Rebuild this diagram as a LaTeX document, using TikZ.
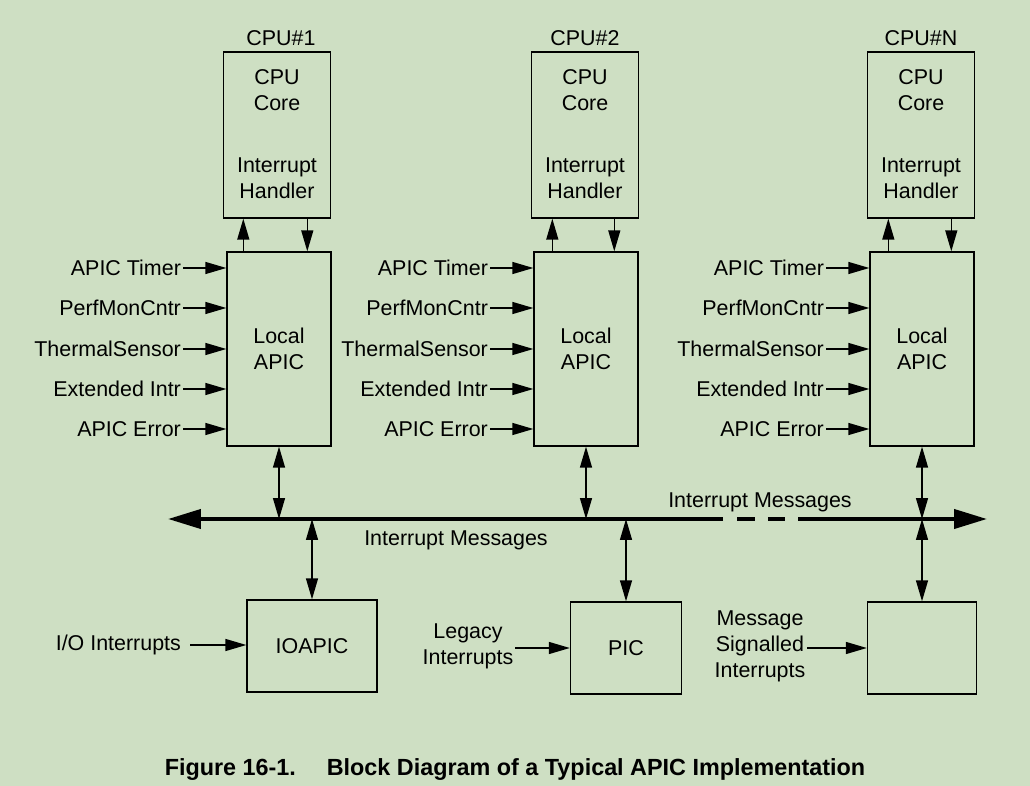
\documentclass[tikz,border=0pt]{standalone}
\usepackage{fontspec}
\setmainfont{Liberation Sans}
\usepackage{tikz}
\usetikzlibrary{arrows.meta}
\definecolor{pagegreen}{RGB}{206,223,195}

\begin{document}
\begin{tikzpicture}[x=0.02cm, y=-0.02cm,
    font=\fontsize{12.2}{14.8}\selectfont,
    txt/.style={inner sep=1pt},
    cpubox/.style={draw, line width=0.8pt, minimum width=2.14cm, minimum height=3.32cm},
    apicbox/.style={draw, line width=0.8pt, minimum width=2.08cm, minimum height=3.88cm},
    devbox/.style={draw, line width=0.8pt, minimum height=1.84cm},
    sig/.style={line width=0.8pt, -{Triangle[length=0.42cm,width=0.24cm]}},
    twoway/.style={line width=0.8pt, {Triangle[length=0.42cm,width=0.24cm]}-{Triangle[length=0.42cm,width=0.24cm]}},
    bus/.style={line width=2.3pt}]
            \path[use as bounding box, fill=pagegreen] (0,0) rectangle (1030,786);

            % CPU #1
            \node[txt] (name1) at (281,38) {CPU\#1};
            \node[cpubox] (cpu1) at (277,135) {};
            \node[txt, align=center] (core1) at (277,90) {CPU\\Core};
            \node[txt, align=center] (hdl1) at (277,178) {Interrupt\\Handler};
            \node[apicbox] (apic1) at (279,349) {};
            \node[txt, align=center] (lapic1) at (279,349) {Local\\APIC};
            \node[txt, anchor=east] (tmr1) at (183,268) {APIC Timer};
            \node[txt, anchor=east] (perf1) at (183,308) {PerfMonCntr};
            \node[txt, anchor=east] (therm1) at (183,349) {ThermalSensor};
            \node[txt, anchor=east] (ext1) at (183,389) {Extended Intr};
            \node[txt, anchor=east] (err1) at (183,429) {APIC Error};

            % CPU #2
            \node[txt] (name2) at (585,38) {CPU\#2};
            \node[cpubox] (cpu2) at (585,135) {};
            \node[txt, align=center] (core2) at (585,90) {CPU\\Core};
            \node[txt, align=center] (hdl2) at (585,178) {Interrupt\\Handler};
            \node[apicbox] (apic2) at (586,349) {};
            \node[txt, align=center] (lapic2) at (586,349) {Local\\APIC};
            \node[txt, anchor=east] (tmr2) at (490,268) {APIC Timer};
            \node[txt, anchor=east] (perf2) at (490,308) {PerfMonCntr};
            \node[txt, anchor=east] (therm2) at (490,349) {ThermalSensor};
            \node[txt, anchor=east] (ext2) at (490,389) {Extended Intr};
            \node[txt, anchor=east] (err2) at (490,429) {APIC Error};

            % CPU #N
            \node[txt] (nameN) at (921,38) {CPU\#N};
            \node[cpubox] (cpuN) at (921,135) {};
            \node[txt, align=center] (coreN) at (921,90) {CPU\\Core};
            \node[txt, align=center] (hdlN) at (921,178) {Interrupt\\Handler};
            \node[apicbox] (apicN) at (922,349) {};
            \node[txt, align=center] (lapicN) at (922,349) {Local\\APIC};
            \node[txt, anchor=east] (tmrN) at (826,268) {APIC Timer};
            \node[txt, anchor=east] (perfN) at (826,308) {PerfMonCntr};
            \node[txt, anchor=east] (thermN) at (826,349) {ThermalSensor};
            \node[txt, anchor=east] (extN) at (826,389) {Extended Intr};
            \node[txt, anchor=east] (errN) at (826,429) {APIC Error};

            % bus
            \coordinate (busL) at (168,519);
            \coordinate (gapL) at (723,519);
            \coordinate (dashL) at (737,519);
            \coordinate (dashR) at (785,519);
            \coordinate (gapR) at (798,519);
            \coordinate (busR) at (987,519);
            \node[txt] (msgLow) at (456,540) {Interrupt Messages};
            \node[txt] (msgUp) at (760,502) {Interrupt Messages};

            % devices
            \node[devbox, minimum width=2.6cm] (ioapic) at (312,646) {IOAPIC};
            \node[devbox, minimum width=2.22cm] (pic) at (626,648) {PIC};
            \node[devbox, minimum width=2.18cm] (msibox) at (922,648) {};
            \node[txt, anchor=east] (iointr) at (183,645) {I/O Interrupts};
            \node[txt, align=center] (legacy) at (468,646) {Legacy\\Interrupts};
            \node[txt, align=center] (msi) at (760,646) {Message\\Signalled\\Interrupts};

            \node[txt, font=\bfseries\fontsize{13.3}{15}\selectfont] (caption) at (515,770) {Figure 16-1.\hspace{0.95em} Block Diagram of a Typical APIC Implementation};

            \draw[sig] ([xshift=0.34cm]apic1.north west) -- ([xshift=0.34cm]apic1.north west |- cpu1.south);
            \draw[sig] ([xshift=1.62cm]apic1.north west |- cpu1.south) -- ([xshift=1.62cm]apic1.north west);
            \draw[sig] ([xshift=0.38cm]apic2.north west) -- ([xshift=0.38cm]apic2.north west |- cpu2.south);
            \draw[sig] ([xshift=1.62cm]apic2.north west |- cpu2.south) -- ([xshift=1.62cm]apic2.north west);
            \draw[sig] ([xshift=0.38cm]apicN.north west) -- ([xshift=0.38cm]apicN.north west |- cpuN.south);
            \draw[sig] ([xshift=1.64cm]apicN.north west |- cpuN.south) -- ([xshift=1.64cm]apicN.north west);

            \draw[sig] (tmr1.east) -- (tmr1.east -| apic1.west);
            \draw[sig] (perf1.east) -- (perf1.east -| apic1.west);
            \draw[sig] (therm1.east) -- (therm1.east -| apic1.west);
            \draw[sig] (ext1.east) -- (ext1.east -| apic1.west);
            \draw[sig] (err1.east) -- (err1.east -| apic1.west);
            \draw[sig] (tmr2.east) -- (tmr2.east -| apic2.west);
            \draw[sig] (perf2.east) -- (perf2.east -| apic2.west);
            \draw[sig] (therm2.east) -- (therm2.east -| apic2.west);
            \draw[sig] (ext2.east) -- (ext2.east -| apic2.west);
            \draw[sig] (err2.east) -- (err2.east -| apic2.west);
            \draw[sig] (tmrN.east) -- (tmrN.east -| apicN.west);
            \draw[sig] (perfN.east) -- (perfN.east -| apicN.west);
            \draw[sig] (thermN.east) -- (thermN.east -| apicN.west);
            \draw[sig] (extN.east) -- (extN.east -| apicN.west);
            \draw[sig] (errN.east) -- (errN.east -| apicN.west);

            \draw[bus, -{Triangle[length=0.66cm,width=0.38cm]}] (gapL) -- (busL);
            \draw[bus, dash pattern=on 10.2pt off 7.4pt] (dashL) -- (dashR);
            \draw[bus, -{Triangle[length=0.66cm,width=0.38cm]}] (gapR) -- (busR);

            \draw[twoway] (apic1.south) -- (apic1.south |- busL);
            \draw[twoway] (apic2.south) -- (apic2.south |- busL);
            \draw[twoway] (apicN.south) -- (apicN.south |- busL);
            \draw[twoway] (ioapic.north |- busL) -- (ioapic.north);
            \draw[twoway] (pic.north |- busL) -- (pic.north);
            \draw[twoway] (msibox.north |- busL) -- (msibox.north);

            \draw[sig, shorten <=4pt] (iointr.east) -- (iointr.east -| ioapic.west);
            \draw[sig] (legacy.east |- pic.west) -- (pic.west);
            \draw[sig] (msi.east |- msibox.west) -- (msibox.west);
        \end{tikzpicture}
\end{document}
